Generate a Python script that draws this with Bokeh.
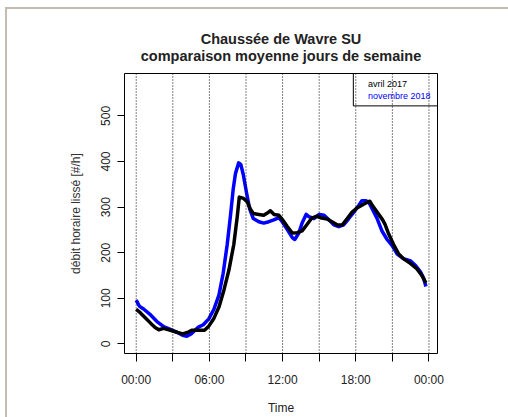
import math
from bokeh.plotting import figure
from bokeh.models import Range1d, FixedTicker, Span, BoxAnnotation, Title, InlineStyleSheet
from bokeh.core.properties import value
from bokeh.embed import file_html
from bokeh.resources import INLINE

# ---------------- data ----------------
title_lines = ["Chaussée de Wavre SU", "comparaison moyenne jours de semaine"]
x_label = "Time"
y_label = "débit horaire lissé [#/h]"
x_ticks = [0, 3, 6, 9, 12, 15, 18, 21, 24]
x_tick_labels = ["00:00", "", "06:00", "", "12:00", "", "18:00", "", "00:00"]
y_ticks = [0, 100, 200, 300, 400, 500]
series_names = ["avril 2017", "novembre 2018"]
series_colors = ["black", "#0000ff"]

# avril 2017 (black)
avril_h = [0.0, 0.35, 0.8, 1.2, 1.55, 1.85, 2.25, 2.8, 3.4, 3.8, 4.2, 4.55, 5.1, 5.6, 5.95,
           6.35, 6.8, 7.2, 7.6, 8.0, 8.28, 8.45, 8.8, 9.1, 9.35, 9.6, 10.05, 10.45, 10.75,
           11.0, 11.3, 11.7, 12.0, 12.4, 12.8, 13.2, 13.6, 14.0, 14.4, 14.8, 15.2, 15.65,
           16.05, 16.5, 16.9, 17.3, 17.7, 18.1, 18.5, 18.9, 19.15, 19.35, 19.75, 20.2, 20.4,
           20.7, 21.1, 21.5, 21.9, 22.5, 23.0, 23.4, 23.75]
avril_v = [76, 68, 56, 45, 36, 31, 34, 30, 25, 22, 25, 30, 30, 30, 39,
           55, 82, 119, 162, 218, 278, 322, 319, 312, 296, 286, 284, 282, 287,
           292, 284, 282, 272, 257, 243, 244, 248, 262, 276, 280, 276, 274,
           268, 261, 261, 275, 289, 298, 304, 310, 313, 304, 289, 272, 262,
           241, 218, 198, 187, 176, 165, 151, 134]

# novembre 2018 (blue)
nov_h = [0.0, 0.25, 0.63, 1.2, 1.7, 2.25, 2.8, 3.3, 3.8, 4.15, 4.5, 5.1, 5.5, 5.95, 6.37,
         6.78, 7.13, 7.46, 7.73, 7.95, 8.14, 8.4, 8.58, 8.78, 9.04, 9.3, 9.6, 10.05, 10.46,
         10.87, 11.28, 11.7, 11.97, 12.4, 12.8, 13.0, 13.33, 13.6, 13.93, 14.15, 14.56,
         15.0, 15.4, 15.8, 16.2, 16.6, 17.0, 17.43, 17.84, 18.25, 18.5, 18.8, 19.07, 19.35,
         19.75, 20.16, 20.57, 21.0, 21.4, 21.9, 22.5, 22.9, 23.3, 23.55, 23.75]
nov_v = [96, 83, 76, 63, 49, 38, 32, 26, 19, 17, 22, 37, 42, 55, 76,
         107, 155, 218, 282, 339, 374, 397, 393, 371, 332, 296, 275, 268, 265,
         268, 272, 277, 268, 250, 233, 229, 243, 265, 284, 279, 275,
         284, 282, 272, 261, 257, 261, 275, 289, 304, 314, 314, 311, 296,
         275, 247, 229, 215, 197, 187, 182, 172, 158, 145, 126]

# ---------------- figure ----------------
FONT = "Liberation Sans"
frame_css = InlineStyleSheet(css="""
:host::after {
  content: "";
  position: absolute;
  left: 5px; top: 7px; right: 0px; bottom: 0px;
  border-left: 2px solid #c4bbb1;
  border-top: 2px solid #c4bbb1;
  pointer-events: none;
  z-index: 10;
}
""")
p = figure(width=508, height=417, output_backend="svg", toolbar_location=None,
           x_range=Range1d(-0.96, 24.7), y_range=Range1d(-21, 593),
           min_border_left=124, min_border_right=71, min_border_top=73,
           min_border_bottom=58, background_fill_color="white",
           border_fill_color="white", stylesheets=[frame_css])
p.title = None
p.grid.visible = False
p.outline_line_color = "black"
p.outline_line_width = 1

# x axis
xa = p.xaxis[0]
xa.ticker = FixedTicker(ticks=x_ticks, minor_ticks=[])
xa.major_label_overrides = {t: lab for t, lab in zip(x_ticks, x_tick_labels)}
xa.major_tick_out = 8
xa.major_tick_in = 0
xa.minor_tick_out = 0
xa.axis_line_color = None
xa.major_label_text_font = FONT
xa.major_label_text_font_size = "12px"
xa.major_label_text_color = "#222222"
xa.major_label_standoff = 11
xa.axis_label = x_label
xa.axis_label_text_font = FONT
xa.axis_label_text_font_size = "12px"
xa.axis_label_text_font_style = "normal"
xa.axis_label_text_color = "#222222"
xa.axis_label_standoff = 11

# y axis
ya = p.yaxis[0]
ya.ticker = FixedTicker(ticks=y_ticks, minor_ticks=[])
ya.major_tick_out = 7
ya.major_tick_in = 0
ya.axis_line_color = None
ya.major_label_orientation = "vertical"
ya.major_label_text_font = FONT
ya.major_label_text_font_size = "12px"
ya.major_label_text_color = "#222222"
ya.major_label_standoff = 7
ya.axis_label = y_label
ya.axis_label_text_font = FONT
ya.axis_label_text_font_size = "12px"
ya.axis_label_text_font_style = "normal"
ya.axis_label_text_color = "#333333"
ya.axis_label_standoff = 16

# dotted vertical guide lines
for t in x_ticks:
    p.add_layout(Span(location=t, dimension="height", line_color="black",
                      line_width=1, line_dash="1 2"))

# series (blue below black)
p.line(nov_h, nov_v, line_color=series_colors[1], line_width=3.5, line_join="round")
p.line(avril_h, avril_v, line_color=series_colors[0], line_width=3.5, line_join="round")

# legend box (top right, text only)
p.add_layout(BoxAnnotation(left=17.8, bottom=522, fill_alpha=0, fill_color=None,
                           line_color="black", line_alpha=1.0, line_width=1))
p.text(x=[19.0, 19.0], y=[569, 544], text=series_names,
       text_color=series_colors, text_font=value(FONT), text_font_size="9px",
       text_baseline="middle", text_align="left")

# titles: spacer nearest the plot, then line 2, then line 1
p.add_layout(Title(text=" ", align="center", text_font_size="1px", standoff=7), "above")
p.add_layout(Title(text=title_lines[1], align="center", text_font=FONT,
                   text_font_size="14.5px", text_font_style="bold",
                   text_color="#222222", standoff=-1), "above")
p.add_layout(Title(text=title_lines[0], align="center", text_font=FONT,
                   text_font_size="14.5px", text_font_style="bold",
                   text_color="#222222", standoff=0), "above")

open("out.html", "w").write(file_html(p, INLINE))
